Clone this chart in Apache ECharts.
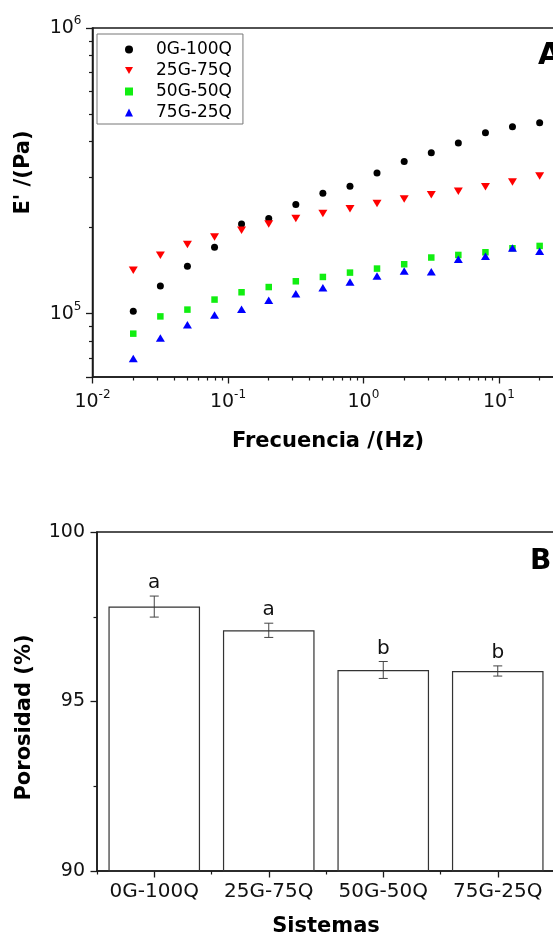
<!DOCTYPE html>
<html>
<head>
<meta charset="utf-8">
<script src="https://cdn.jsdelivr.net/npm/echarts@6/dist/echarts.min.js"></script>
<style>
html,body{margin:0;padding:0;background:#fff;}
#c{width:553px;height:936px;}
</style>
</head>
<body>
<div id="c"></div>
<script>
// ---------- Panel A data ----------
const frequencies = [0.02, 0.0317, 0.0502, 0.0796, 0.126, 0.2, 0.317, 0.502, 0.796, 1.26, 2, 3.17, 5.02, 7.96, 12.6, 20];
const storage0G100Q = [102000, 125000, 146600, 170800, 206000, 215500, 241000, 264000, 279000, 311000, 341000, 366000, 396000, 430000, 451000, 466000];
const storage25G75Q = [142000, 160000, 174500, 185600, 196000, 206000, 215500, 224000, 233000, 243000, 252000, 261000, 268000, 278000, 289000, 303000];
const storage50G50Q = [85100, 97800, 103300, 112000, 118800, 123900, 129800, 134400, 139200, 143800, 148900, 157200, 160500, 164000, 169400, 172600];
const storage75G25Q = [69600, 82100, 91500, 98900, 103500, 111300, 117500, 123300, 129100, 135500, 141000, 140300, 155000, 158800, 169800, 165400];
const seriesNames = ['0G-100Q', '25G-75Q', '50G-50Q', '75G-25Q'];
const xMinorTicks = [0.02,0.03,0.04,0.05,0.06,0.07,0.08,0.09,0.2,0.3,0.4,0.5,0.6,0.7,0.8,0.9,2,3,4,5,6,7,8,9,20];
const yMinorTicks = [70000,80000,90000,200000,300000,400000,500000,600000,700000,800000,900000];

// ---------- Panel B data ----------
const systems = ['0G-100Q', '25G-75Q', '50G-50Q', '75G-25Q'];
const porosity = [97.8, 97.1, 95.93, 95.9];
const porosityErr = [0.31, 0.21, 0.25, 0.15];
const groupLetters = ['a', 'a', 'b', 'b'];

const FONT = 'DejaVu Sans';
const AXIS_COLOR = '#1a1a1a';

function powLabel(v) {
  const e = Math.log10(v);
  const r = Math.round(e);
  if (Math.abs(e - r) > 1e-6) return '';
  return '{m|10}{s|' + (r < 0 ? '-' + (-r) : String(r)) + '}';
}
const powRich = {
  m: {fontSize: 19, lineHeight: 26, fontFamily: FONT, color: '#111'},
  s: {fontSize: 12, lineHeight: 14, verticalAlign: 'top', fontFamily: FONT, color: '#111'}
};

const downTri = 'path://M0,0L10,0L5,8.66Z';

const chart = echarts.init(document.getElementById('c'), null, {renderer: 'canvas'});

const option = {
  animation: false,
  backgroundColor: '#fff',
  textStyle: {fontFamily: FONT},
  title: [
    {text: 'A', left: 538, top: 41, padding: 0, textStyle: {fontSize: 30, fontWeight: 'bold', fontFamily: FONT, color: '#000'}},
    {text: 'B', left: 530, top: 548, padding: 0, textStyle: {fontSize: 28, fontWeight: 'bold', fontFamily: FONT, color: '#000'}}
  ],
  legend: {
    orient: 'vertical',
    left: 97, top: 34,
    align: 'left',
    padding: [7, 11, 3, 28],
    itemGap: 4,
    itemWidth: 8, itemHeight: 8,
    symbolKeepAspect: true,
    borderColor: '#777', borderWidth: 1,
    selectedMode: false,
    data: seriesNames,
    formatter: name => '{t|' + name + '}',
    textStyle: {
      fontFamily: FONT, fontSize: 17, color: '#000',
      rich: {t: {padding: [0, 0, 0, 18], fontSize: 17, lineHeight: 20, fontFamily: FONT, color: '#000'}}
    }
  },
  grid: [
    {left: 92.5, top: 28, width: 471, height: 349, show: true, borderColor: AXIS_COLOR, borderWidth: 1.5, backgroundColor: 'transparent', containLabel: false, outerBoundsMode: 'none'},
    {left: 97, top: 532, width: 458, height: 339, show: true, borderColor: AXIS_COLOR, borderWidth: 1.5, backgroundColor: 'transparent', containLabel: false, outerBoundsMode: 'none'}
  ],
  xAxis: [
    {
      type: 'log', gridIndex: 0, min: 0.01, max: 30, position: 'bottom',
      name: 'Frecuencia /(Hz)', nameLocation: 'middle', nameGap: 54, nameMoveOverlap: false,
      nameTextStyle: {fontSize: 21, fontWeight: 'bold', fontFamily: FONT, color: '#000'},
      axisLine: {show: true, lineStyle: {color: AXIS_COLOR, width: 1.5}},
      axisTick: {show: true, inside: false, length: 6.5, lineStyle: {color: AXIS_COLOR, width: 1.3}},
      minorTick: {show: false},
      axisLabel: {show: true, margin: 12, formatter: powLabel, rich: powRich, hideOverlap: false, showMinLabel: true, showMaxLabel: true},
      splitLine: {show: false}
    },
    {
      type: 'log', gridIndex: 0, min: 0.01, max: 30, position: 'bottom',
      axisLine: {show: false},
      axisTick: {show: true, inside: false, length: 3.5, customValues: xMinorTicks, lineStyle: {color: AXIS_COLOR, width: 1.2}},
      axisLabel: {show: false},
      splitLine: {show: false}
    },
    {
      type: 'category', gridIndex: 1, data: systems, position: 'bottom',
      name: 'Sistemas', nameLocation: 'middle', nameGap: 45, nameMoveOverlap: false,
      nameTextStyle: {fontSize: 21, fontWeight: 'bold', fontFamily: FONT, color: '#000'},
      axisLine: {show: true, lineStyle: {color: AXIS_COLOR, width: 1.5}},
      axisTick: {show: true, alignWithLabel: true, inside: false, length: 6.5, lineStyle: {color: AXIS_COLOR, width: 1.3}},
      axisLabel: {show: true, margin: 11, fontSize: 20, fontFamily: FONT, color: '#111', interval: 0},
      splitLine: {show: false}
    },
    {
      type: 'category', gridIndex: 1, data: systems, position: 'bottom',
      axisLine: {show: false},
      axisTick: {show: true, alignWithLabel: false, inside: false, length: 3.5, interval: 0, lineStyle: {color: AXIS_COLOR, width: 1.2}},
      axisLabel: {show: false},
      splitLine: {show: false}
    }
  ],
  yAxis: [
    {
      type: 'log', gridIndex: 0, min: 60000, max: 1000000, position: 'left',
      name: "E' /(Pa)", nameLocation: 'middle', nameGap: 58, nameMoveOverlap: false,
      nameTextStyle: {fontSize: 21, fontWeight: 'bold', fontFamily: FONT, color: '#000', padding: [0, 0, 0, 60]},
      axisLine: {show: true, lineStyle: {color: AXIS_COLOR, width: 1.5}},
      axisTick: {show: true, inside: false, length: 6.5, lineStyle: {color: AXIS_COLOR, width: 1.3}},
      axisLabel: {show: true, margin: 11, formatter: powLabel, rich: powRich, hideOverlap: false, showMinLabel: true, showMaxLabel: true},
      splitLine: {show: false}
    },
    {
      type: 'log', gridIndex: 0, min: 60000, max: 1000000, position: 'left',
      axisLine: {show: false},
      axisTick: {show: true, inside: false, length: 3.5, customValues: yMinorTicks, lineStyle: {color: AXIS_COLOR, width: 1.2}},
      axisLabel: {show: false},
      splitLine: {show: false}
    },
    {
      type: 'value', gridIndex: 1, min: 90, max: 100, interval: 5, position: 'left',
      name: 'Porosidad (%)', nameLocation: 'middle', nameGap: 62, nameMoveOverlap: false,
      nameTextStyle: {fontSize: 21, fontWeight: 'bold', fontFamily: FONT, color: '#000', padding: [0, 32, 0, 0]},
      axisLine: {show: true, lineStyle: {color: AXIS_COLOR, width: 1.5}},
      axisTick: {show: true, inside: false, length: 6.5, lineStyle: {color: AXIS_COLOR, width: 1.3}},
      minorTick: {show: true, splitNumber: 2, length: 3.5, lineStyle: {color: AXIS_COLOR, width: 1.2}},
      axisLabel: {show: true, margin: 12, fontSize: 19, fontFamily: FONT, color: '#111'},
      splitLine: {show: false},
      minorSplitLine: {show: false}
    }
  ],
  series: [
    {
      name: seriesNames[0], type: 'scatter', xAxisIndex: 0, yAxisIndex: 0,
      symbol: 'circle', symbolSize: 7,
      itemStyle: {color: '#000000', opacity: 1},
      data: frequencies.map((f, i) => [f, storage0G100Q[i]])
    },
    {
      name: seriesNames[1], type: 'scatter', xAxisIndex: 0, yAxisIndex: 0,
      symbol: downTri, symbolSize: [9, 7.5],
      itemStyle: {color: '#ff0000', opacity: 1},
      data: frequencies.map((f, i) => [f, storage25G75Q[i]])
    },
    {
      name: seriesNames[2], type: 'scatter', xAxisIndex: 0, yAxisIndex: 0,
      symbol: 'rect', symbolSize: 6.5,
      itemStyle: {color: '#11ee11', opacity: 1},
      data: frequencies.map((f, i) => [f, storage50G50Q[i]])
    },
    {
      name: seriesNames[3], type: 'scatter', xAxisIndex: 0, yAxisIndex: 0,
      symbol: 'triangle', symbolSize: [9, 7.5],
      itemStyle: {color: '#0000ff', opacity: 1},
      data: frequencies.map((f, i) => [f, storage75G25Q[i]])
    },
    {
      name: 'Porosidad', type: 'bar', xAxisIndex: 2, yAxisIndex: 2,
      barWidth: '80%',
      itemStyle: {color: 'rgba(255,255,255,0)', borderColor: '#333', borderWidth: 1.2},
      emphasis: {disabled: true},
      data: porosity
    },
    {
      name: 'errores', type: 'custom', xAxisIndex: 2, yAxisIndex: 2,
      encode: {x: 0, y: [1, 2]},
      data: porosity.map((p, i) => [i, p - porosityErr[i], p + porosityErr[i]]),
      renderItem: function (params, api) {
        const i = api.value(0);
        const lo = api.coord([i, api.value(1)]);
        const hi = api.coord([i, api.value(2)]);
        const hw = 4.5;
        const st = {stroke: '#444', lineWidth: 1};
        return {
          type: 'group',
          children: [
            {type: 'line', shape: {x1: lo[0], y1: lo[1], x2: hi[0], y2: hi[1]}, style: st},
            {type: 'line', shape: {x1: lo[0] - hw, y1: lo[1], x2: lo[0] + hw, y2: lo[1]}, style: st},
            {type: 'line', shape: {x1: hi[0] - hw, y1: hi[1], x2: hi[0] + hw, y2: hi[1]}, style: st},
            {type: 'text', style: {text: groupLetters[params.dataIndex], x: hi[0], y: hi[1] - 3, align: 'center', verticalAlign: 'bottom', font: '20px "DejaVu Sans"', fill: '#111'}}
          ]
        };
      }
    }
  ]
};
chart.setOption(option);
</script>
</body>
</html>
